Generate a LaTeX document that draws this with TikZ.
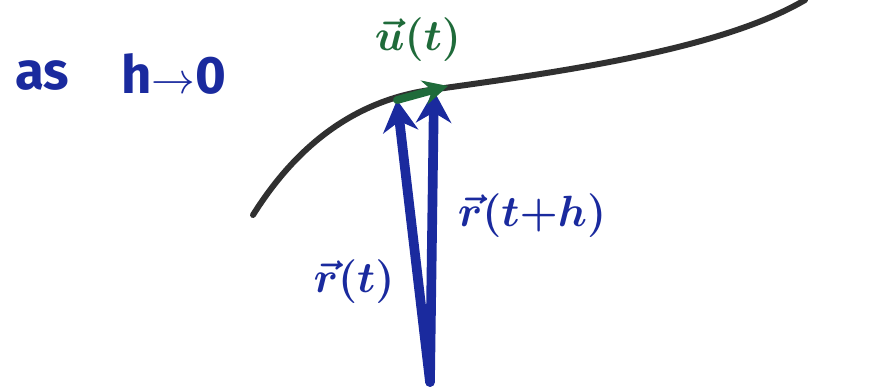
\documentclass[tikz,border=0pt]{standalone}
\usepackage{fontspec}
\setmainfont{Fira Sans}
\usetikzlibrary{arrows.meta}
\definecolor{penblue}{HTML}{1A2A9E}
\definecolor{pengreen}{HTML}{1F6B3A}
\definecolor{penblack}{HTML}{303030}
\tikzset{
  vecarrow/.style={penblue, line width=5.5pt, line cap=round, -{Stealth[length=18pt,width=20pt]}},
  tangarrow/.style={pengreen, line width=4.5pt, line cap=round, -{Stealth[length=14pt,width=14pt]}},
  curveline/.style={penblack, line width=3.4pt, line cap=round},
  lbl/.style={inner sep=0pt},
}
\begin{document}
\begin{tikzpicture}[x=0.02cm,y=-0.02cm]
\useasboundingbox[fill=white] (0,0) rectangle (882,388);
\draw[curveline] (253,215) .. controls (300,140) and (360,100) .. (430,90) .. controls (560,72) and (720,50) .. (805,0);
\coordinate (O) at (430,382);
\coordinate (A) at (397,100);
\coordinate (B) at (434,91);
\coordinate (U) at (448,86);
\draw[vecarrow] (O) -- (A);
\draw[vecarrow] (O) -- (B);
\draw[tangarrow] (A) -- (U);
\node[lbl, text=penblue, font=\fontsize{30}{34}\selectfont\bfseries] (as) at (42,76) {as};
\node[lbl, text=penblue, font=\fontsize{30}{34}\selectfont\bfseries] (hto) at (174,74) {h$\rightarrow$0};
\node[lbl, text=pengreen, font=\fontsize{23}{26}\selectfont\bfseries\boldmath] (u) at (418,40) {$\vec{u}(t)$};
\node[lbl, text=penblue, font=\fontsize{26}{30}\selectfont\bfseries\boldmath] (rth) at (532,216) {$\vec{r}(t{+}h)$};
\node[lbl, text=penblue, font=\fontsize{23}{26}\selectfont\bfseries\boldmath] (rt) at (354,282) {$\vec{r}(t)$};
\end{tikzpicture}
\end{document}
